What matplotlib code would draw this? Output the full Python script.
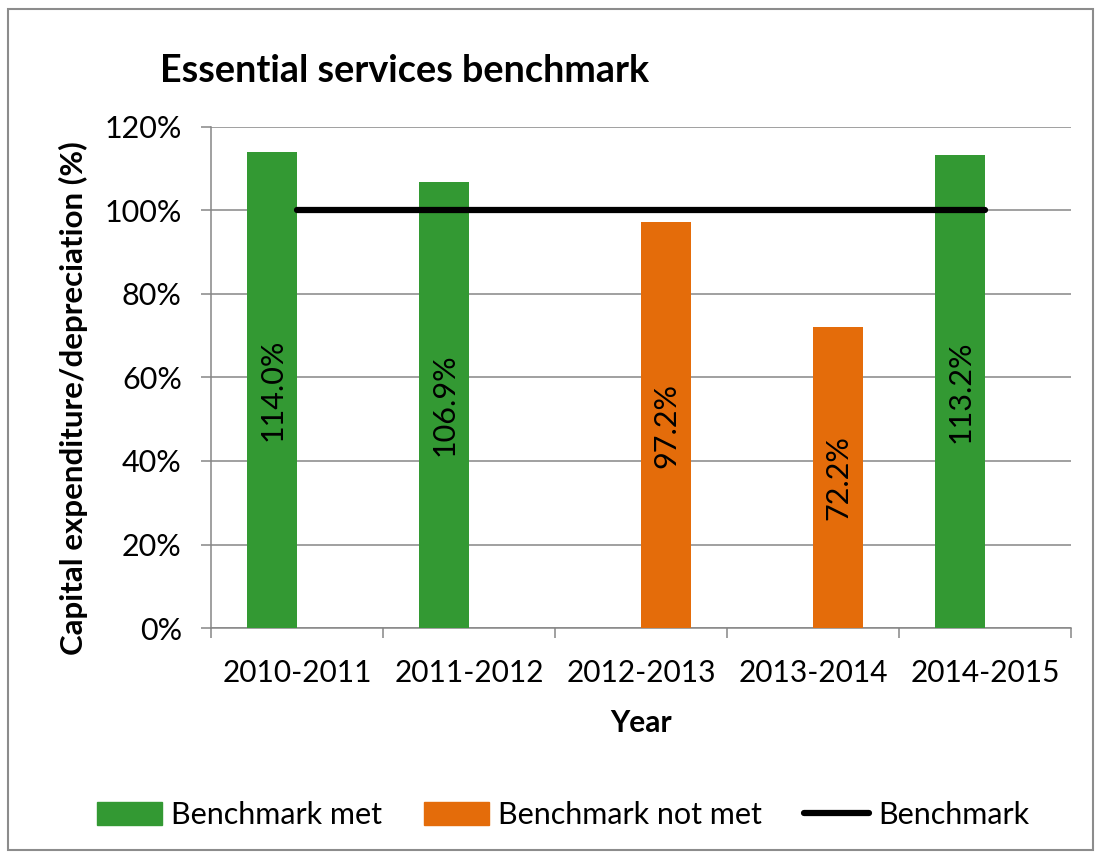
import numpy as np
import matplotlib.pyplot as plt
from matplotlib.patches import Rectangle, Patch
from matplotlib.lines import Line2D

plt.rcParams['font.family'] = ['Lato', 'DejaVu Sans']

years = ['2010-2011', '2011-2012', '2012-2013', '2013-2014', '2014-2015']
benchmark_met = [114.0, 106.9, np.nan, np.nan, 113.2]
benchmark_not_met = [np.nan, np.nan, 97.2, 72.2, np.nan]
benchmark = [100, 100, 100, 100, 100]
y_ticks = [0, 20, 40, 60, 80, 100, 120]

GREEN = '#339933'
ORANGE = '#E46C0A'
GRID = '#868686'

fig = plt.figure(figsize=(11.02, 8.59), dpi=100)
ax = fig.add_axes([0.1915, 0.2689, 0.7804, 0.5833])

x = np.arange(len(years))
bw = 0.29
met = np.array(benchmark_met) / 100
notmet = np.array(benchmark_not_met) / 100
ax.bar(x - bw / 2, met, width=bw, color=GREEN, zorder=3)
ax.bar(x + bw / 2, notmet, width=bw, color=ORANGE, zorder=3)
ax.plot(x, np.array(benchmark) / 100, color='black', lw=4.5,
        solid_capstyle='round', zorder=4)

for xi, v in zip(x - bw / 2, benchmark_met):
    if not np.isnan(v):
        ax.text(xi, v / 200, f'{v:.1f}%', rotation=90, ha='center',
                va='center', fontsize=22, zorder=5)
for xi, v in zip(x + bw / 2, benchmark_not_met):
    if not np.isnan(v):
        ax.text(xi, v / 200, f'{v:.1f}%', rotation=90, ha='center',
                va='center', fontsize=22, zorder=5)

ax.set_xlim(-0.5, len(years) - 0.5)
ax.set_ylim(0, 1.2)
ax.set_yticks([t / 100 for t in y_ticks])
ax.set_yticklabels([f'{t}%' for t in y_ticks], fontsize=22)
ax.set_xticks(x)
ax.set_xticklabels(years, fontsize=21.5)
ax.set_xticks(np.arange(len(years) + 1) - 0.5, minor=True)
ax.tick_params(axis='x', which='major', length=0, pad=22)
ax.tick_params(axis='x', which='minor', length=7, width=1.1, color=GRID)
ax.tick_params(axis='y', length=7, width=1.1, color=GRID, pad=14)

ax.grid(axis='y', color=GRID, lw=1.1, zorder=0)
ax.set_axisbelow(True)
for s in ['top', 'right']:
    ax.spines[s].set_visible(False)
for s in ['left', 'bottom']:
    ax.spines[s].set_color(GRID)
    ax.spines[s].set_linewidth(1.1)

ax.set_xlabel('Year', fontsize=21.5, fontweight='bold', labelpad=16)
ax.set_ylabel('Capital expenditure/depreciation (%)', fontsize=22.5,
              fontweight='bold', labelpad=12)
ax.yaxis.label.set_y(0.458)
fig.text(0.145, 0.917, 'Essential services benchmark', fontsize=27.2,
         fontweight='bold', ha='left', va='center')

handles = [Patch(color=GREEN), Patch(color=ORANGE),
           Line2D([0], [0], color='black', lw=4.5, solid_capstyle='round')]
fig.legend(handles, ['Benchmark met', 'Benchmark not met', 'Benchmark'],
           loc='center', bbox_to_anchor=(0.511, 0.051), ncol=3, frameon=False,
           fontsize=22, handlelength=2.1, handleheight=0.8, handletextpad=0.3,
           columnspacing=1.4)

fig.patches.append(Rectangle((8 / 1102, 9 / 859), 1085 / 1102, 841 / 859,
                             transform=fig.transFigure, fill=False,
                             edgecolor='#8c8c8c', lw=1.5))

fig.savefig('out.png', dpi=100)
